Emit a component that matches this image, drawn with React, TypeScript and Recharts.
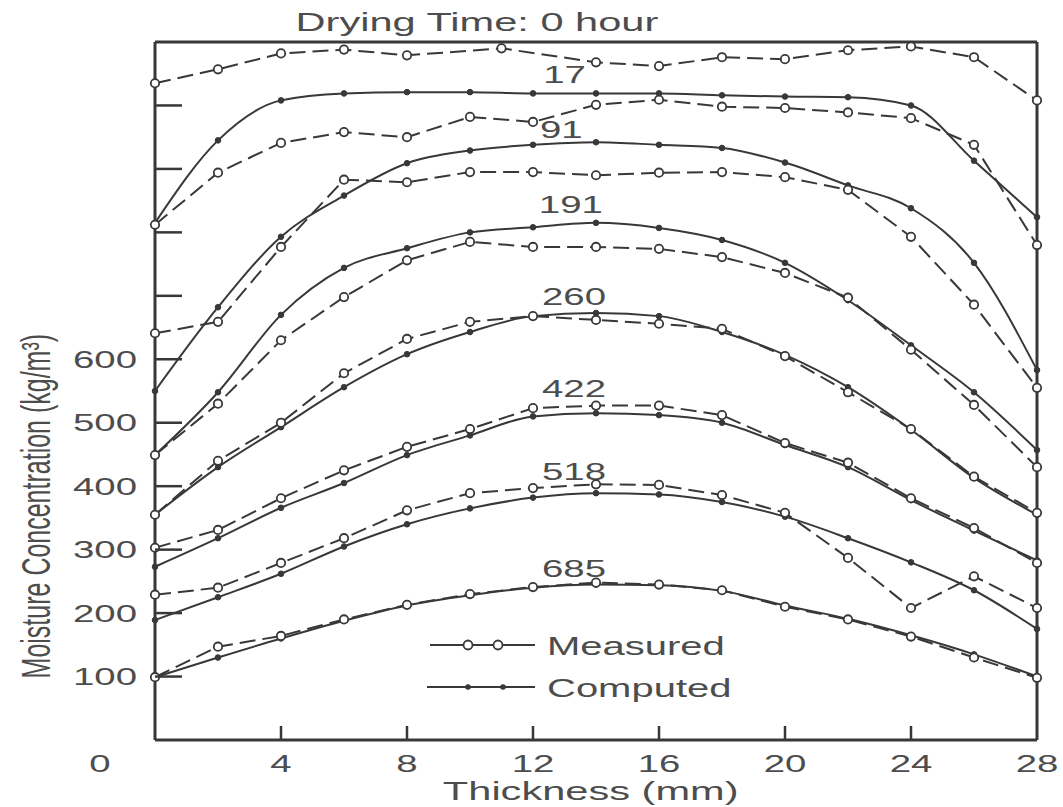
import React from 'react';
import { LineChart, Line, XAxis, YAxis, ReferenceDot, Legend } from 'recharts';

// thickness positions (mm)
const thickness = [0, 2, 4, 6, 8, 10, 12, 14, 16, 18, 20, 22, 24, 26, 28];
const thickness0h = [0, 2, 4, 6, 8, 11, 14, 16, 18, 20, 22, 24, 26, 28];

// moisture concentration (kg/m3)
const measured0h = [1035, 1057, 1082, 1088, 1079, 1090, 1068, 1062, 1076, 1073, 1087, 1093, 1076, 1008];
const measured17 = [812, 894, 941, 958, 950, 982, 974, 1001, 1009, 998, 996, 989, 980, 938, 780];
const computed17 = [815, 945, 1008, 1019, 1021, 1021, 1019, 1019, 1019, 1016, 1014, 1013, 1000, 913, 824];
const measured91 = [641, 659, 777, 883, 879, 895, 895, 890, 894, 895, 887, 867, 793, 686, 555];
const computed91 = [550, 682, 793, 858, 909, 929, 938, 942, 938, 933, 910, 874, 838, 752, 583];
const measured191 = [449, 530, 630, 698, 756, 785, 777, 777, 774, 761, 736, 697, 615, 528, 430];
const computed191 = [449, 548, 670, 744, 775, 800, 808, 815, 807, 788, 752, 693, 622, 548, 457];
const measured260 = [355, 440, 500, 578, 632, 659, 668, 662, 656, 648, 605, 548, 490, 415, 358];
const computed260 = [355, 430, 493, 556, 608, 643, 668, 673, 668, 643, 607, 556, 489, 413, 355];
const measured422 = [303, 331, 381, 425, 462, 490, 523, 527, 527, 512, 468, 437, 381, 334, 279];
const computed422 = [273, 318, 366, 405, 449, 480, 510, 515, 512, 500, 465, 430, 378, 330, 283];
const measured518 = [229, 240, 279, 318, 362, 389, 397, 403, 402, 386, 358, 287, 208, 258, 208];
const computed518 = [189, 225, 262, 305, 340, 365, 382, 389, 387, 375, 352, 318, 280, 236, 175];
const measured685 = [99, 147, 164, 190, 213, 230, 241, 248, 245, 236, 210, 190, 163, 130, 98];
const computed685 = [99, 130, 160, 188, 212, 228, 240, 245, 244, 235, 212, 191, 165, 135, 100];

// drying time labels placed on the curves
const timeLabels = ['17', '91', '191', '260', '422', '518', '685'];
const timeLabelX = [13.0, 12.9, 13.2, 13.3, 13.3, 13.3, 13.3];
const timeLabelY = [1035, 949, 831, 686, 541, 410, 257];

const xTicks = [0, 4, 8, 12, 16, 20, 24, 28];
const yTicks = [100, 200, 300, 400, 500, 600, 700, 800, 900, 1000];
const legendNames = ['Measured', 'Computed'];

const INK = '#383838';
const TEXT = '#4d4d4d';
const FONT = '"Liberation Sans", Arial, Helvetica, sans-serif';
const STRETCH = 1.6;

const toPoints = (xs: number[], ys: number[]) => xs.map((x, i) => ({ x, y: ys[i] }));

const measuredSeries = [
  { key: 'm0', pts: toPoints(thickness0h, measured0h) },
  { key: 'm17', pts: toPoints(thickness, measured17) },
  { key: 'm91', pts: toPoints(thickness, measured91) },
  { key: 'm191', pts: toPoints(thickness, measured191) },
  { key: 'm260', pts: toPoints(thickness, measured260) },
  { key: 'm422', pts: toPoints(thickness, measured422) },
  { key: 'm518', pts: toPoints(thickness, measured518) },
  { key: 'm685', pts: toPoints(thickness, measured685) },
];

const computedSeries = [
  { key: 'c17', pts: toPoints(thickness, computed17) },
  { key: 'c91', pts: toPoints(thickness, computed91) },
  { key: 'c191', pts: toPoints(thickness, computed191) },
  { key: 'c260', pts: toPoints(thickness, computed260) },
  { key: 'c422', pts: toPoints(thickness, computed422) },
  { key: 'c518', pts: toPoints(thickness, computed518) },
  { key: 'c685', pts: toPoints(thickness, computed685) },
];

function WideText({ x, y, anchor, size, children }: any) {
  return (
    <text
      transform={`translate(${x},${y}) scale(${STRETCH},1)`}
      textAnchor={anchor}
      fontSize={size}
      fontFamily={FONT}
      fill={TEXT}
    >
      {children}
    </text>
  );
}

function LeftTick(props: any) {
  const { x, y, payload } = props;
  const v = payload.value;
  return (
    <g>
      <line x1={x} x2={x + 27} y1={y} y2={y} stroke={INK} strokeWidth={2.5} />
      {v <= 600 && (
        <WideText x={x - 18} y={y + 8.5} anchor="end" size={24}>
          {v}
        </WideText>
      )}
    </g>
  );
}

function RightTick(props: any) {
  const { x, y } = props;
  return <line x1={x} x2={x - 27} y1={y} y2={y} stroke={INK} strokeWidth={2.5} />;
}

function BottomTick(props: any) {
  const { x, y, payload } = props;
  const v = payload.value;
  const inner = v > 0 && v < 28;
  return (
    <g>
      {inner && <line x1={x} x2={x} y1={y} y2={y - 14} stroke={INK} strokeWidth={2.5} />}
      <WideText x={v === 0 ? x - 55 : x} y={y + 32} anchor="middle" size={24}>
        {v}
      </WideText>
    </g>
  );
}

function XTitle(props: any) {
  const vb = props.viewBox || { x: 155, y: 740, width: 882, height: 67 };
  return (
    <WideText x={vb.x + vb.width * 0.494} y={vb.y + 60} anchor="middle" size={26}>
      Thickness (mm)
    </WideText>
  );
}

function TopTitle(props: any) {
  const vb = props.viewBox || { x: 155, y: 0, width: 882, height: 42 };
  return (
    <WideText x={vb.x + vb.width * 0.365} y={31} anchor="middle" size={26}>
      Drying Time: 0 hour
    </WideText>
  );
}

function YTitle(props: any) {
  const vb = props.viewBox || { x: 0, y: 42, width: 155, height: 698 };
  const cy = vb.y + vb.height * 0.665;
  return (
    <text
      transform={`translate(50,${cy}) rotate(-90) scale(1,${STRETCH})`}
      textAnchor="middle"
      fontSize={25}
      fontFamily={FONT}
      fill={TEXT}
    >
      Moisture Concentration (kg/m³)
    </text>
  );
}

function LegendBox() {
  return (
    <svg width={330} height={95}>
      <line x1={10} x2={115} y1={25} y2={25} stroke={INK} strokeWidth={2} />
      <circle cx={48} cy={25} r={4.5} fill="#fff" stroke={INK} strokeWidth={1.8} />
      <circle cx={78} cy={25} r={4.5} fill="#fff" stroke={INK} strokeWidth={1.8} />
      <WideText x={127} y={35} anchor="start" size={25}>
        {legendNames[0]}
      </WideText>
      <line x1={7} x2={115} y1={67} y2={67} stroke={INK} strokeWidth={2} />
      <circle cx={48} cy={67} r={2.8} fill={INK} />
      <circle cx={83} cy={67} r={2.8} fill={INK} />
      <WideText x={127} y={77} anchor="start" size={25}>
        {legendNames[1]}
      </WideText>
    </svg>
  );
}

export default function App() {
  return (
    <div style={{ width: 1063, height: 807 }}>
      <style>{'body{margin:0}'}</style>
      <LineChart width={1063} height={807} margin={{ top: 0, right: 0, bottom: 0, left: 0 }}>
        <XAxis
          dataKey="x"
          type="number"
          domain={[0, 28]}
          ticks={xTicks}
          interval={0}
          height={67}
          tickSize={0}
          tickMargin={0}
          tickLine={false}
          axisLine={{ stroke: INK, strokeWidth: 3 }}
          tick={(p: any) => <BottomTick {...p} />}
          label={<XTitle />}
        />
        <XAxis
          xAxisId="top"
          orientation="top"
          type="number"
          domain={[0, 28]}
          height={42}
          tick={false}
          tickLine={false}
          axisLine={{ stroke: INK, strokeWidth: 3 }}
          label={<TopTitle />}
        />
        <YAxis
          type="number"
          domain={[0, 1100]}
          ticks={yTicks}
          interval={0}
          width={155}
          tickSize={0}
          tickMargin={0}
          tickLine={false}
          axisLine={{ stroke: INK, strokeWidth: 3 }}
          tick={(p: any) => <LeftTick {...p} />}
          label={<YTitle />}
        />
        <YAxis
          yAxisId="right"
          orientation="right"
          type="number"
          domain={[0, 1100]}
          ticks={yTicks}
          interval={0}
          width={26}
          tickSize={0}
          tickMargin={0}
          tickLine={false}
          axisLine={{ stroke: INK, strokeWidth: 3 }}
          tick={(p: any) => <RightTick {...p} />}
        />
        {computedSeries.map((s) => (
          <Line
            key={s.key}
            data={s.pts}
            dataKey="y"
            type="monotone"
            stroke={INK}
            strokeWidth={2}
            dot={{ r: 2.8, fill: INK, stroke: INK, strokeWidth: 1 }}
            activeDot={false}
            isAnimationActive={false}
          />
        ))}
        {measuredSeries.map((s) => (
          <Line
            key={s.key}
            data={s.pts}
            dataKey="y"
            type="linear"
            stroke={INK}
            strokeWidth={2}
            strokeDasharray="16 7"
            dot={{ r: 4.2, fill: '#fff', stroke: INK, strokeWidth: 1.8, strokeDasharray: '' }}
            activeDot={false}
            isAnimationActive={false}
          />
        ))}
        {timeLabels.map((t, i) => (
          <ReferenceDot
            key={t}
            x={timeLabelX[i]}
            y={timeLabelY[i]}
            r={1}
            shape={(p: any) => (
              <WideText x={p.cx} y={p.cy} anchor="middle" size={24}>
                {t}
              </WideText>
            )}
          />
        ))}
        <Legend
          content={<LegendBox />}
          layout="vertical"
          align="center"
          verticalAlign="middle"
          wrapperStyle={{ left: 420, top: 620, width: 330, height: 95 }}
        />
      </LineChart>
    </div>
  );
}
